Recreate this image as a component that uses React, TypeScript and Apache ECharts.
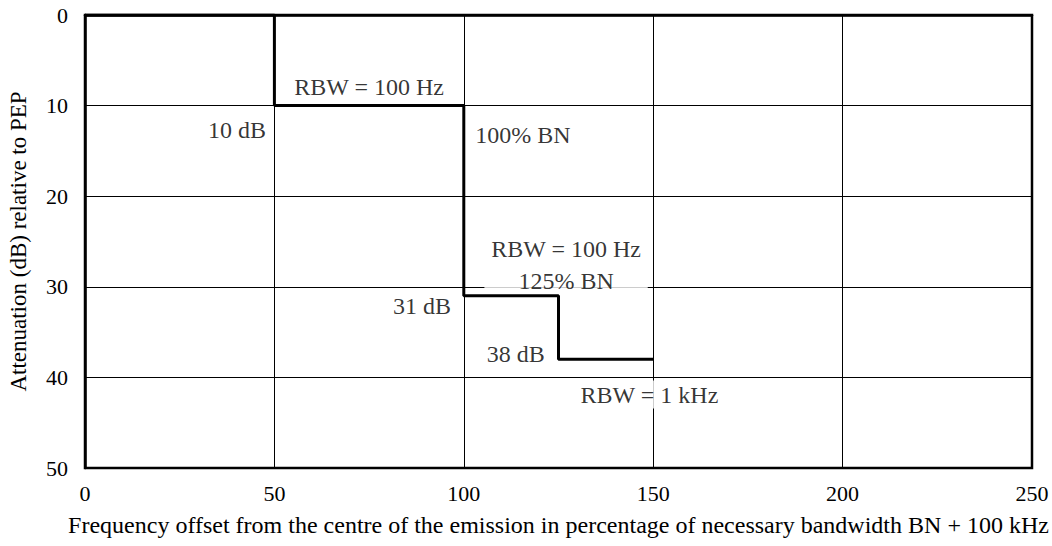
import React, { useEffect, useRef } from "react";
import * as echarts from "echarts";

const xTicks = [0, 50, 100, 150, 200, 250];
const yTicks = [0, 10, 20, 30, 40, 50];
// Step mask: attenuation (dB) at each frequency offset (% of B_N)
const stepX = [0, 50, 100, 125, 150];
const stepY = [0, 10, 31, 38, 38];

const FONT = "Liberation Serif";

// annotation labels
const annX = [75, 47.8, 103, 127, 127, 96.6, 121.4, 149];
const annY = [8, 12.7, 13.2, 25.8, 29.4, 32.1, 37.4, 41.9];
const annText = [
  "RBW = 100 Hz",
  "10 dB",
  "100% BN",
  "RBW = 100 Hz",
  "125% BN",
  "31 dB",
  "38 dB",
  "RBW = 1 kHz",
];
const annAlign = ["center", "right", "left", "center", "center", "right", "right", "center"];

export default function App() {
  const ref = useRef<HTMLDivElement>(null);
  useEffect(() => {
    document.body.style.margin = "0";
    const chart = echarts.init(ref.current!, null, { renderer: "svg" });
    const annData = annX.map((x, k) => {
      const item: any = {
        value: [x, annY[k]],
        label: {
          show: true,
          position: "inside",
          formatter: annText[k],
          align: annAlign[k],
          verticalAlign: "middle",
          fontFamily: FONT,
          fontSize: 24,
          color: "#000",
        },
      };
      if (k === 4) {
        item.label.backgroundColor = "#fff";
        item.label.padding = [0, 34, 0, 34];
      }
      if (k === 7) {
        item.label.backgroundColor = "#fff";
        item.label.padding = [2, 4, 2, 4];
      }
      return item;
    });
    chart.setOption({
      animation: false,
      grid: {
        left: 85,
        right: 20,
        top: 15,
        bottom: 78,
        outerBoundsMode: "none",
        show: true,
        borderColor: "#000",
        borderWidth: 2.5,
        backgroundColor: "transparent",
      },
      xAxis: {
        type: "value",
        min: xTicks[0],
        max: xTicks[xTicks.length - 1],
        interval: xTicks[1] - xTicks[0],
        axisLine: { show: true, lineStyle: { color: "#000", width: 2.5 } },
        axisTick: { show: false },
        splitLine: { show: true, lineStyle: { color: "#000", width: 1 } },
        axisLabel: { fontFamily: FONT, fontSize: 22, color: "#000", margin: 14 },
        name: "Frequency offset from the centre of the emission in percentage of necessary bandwidth BN + 100 kHz",
        nameLocation: "middle",
        nameGap: 45,
        nameTextStyle: { fontFamily: FONT, fontSize: 24, color: "#000" },
      },
      yAxis: {
        type: "value",
        min: yTicks[0],
        max: yTicks[yTicks.length - 1],
        interval: yTicks[1] - yTicks[0],
        inverse: true,
        axisLine: { show: true, lineStyle: { color: "#000", width: 2.5 } },
        axisTick: { show: false },
        splitLine: { show: true, lineStyle: { color: "#000", width: 1 } },
        axisLabel: { fontFamily: FONT, fontSize: 22, color: "#000", margin: 17 },
        name: "Attenuation (dB) relative to PEP",
        nameLocation: "middle",
        nameGap: 55,
        nameTextStyle: { fontFamily: FONT, fontSize: 23, color: "#000" },
      },
      series: [
        {
          type: "line",
          step: "end",
          data: stepX.map((x, k) => [x, stepY[k]]),
          symbol: "none",
          lineStyle: { color: "#000", width: 3 },
          z: 5,
        },
        {
          type: "scatter",
          data: annData,
          symbolSize: 0,
          itemStyle: { color: "transparent" },
          z: 4,
        },
      ],
    });
    return () => chart.dispose();
  }, []);
  return <div ref={ref} style={{ width: 1052, height: 546 }} />;
}
